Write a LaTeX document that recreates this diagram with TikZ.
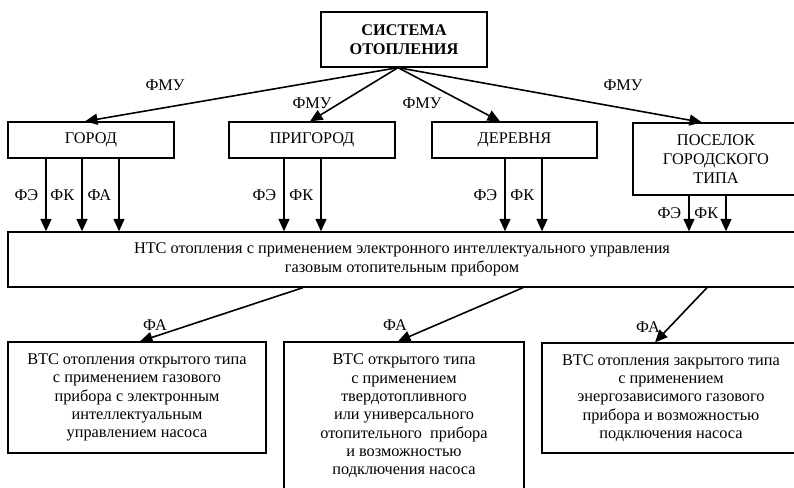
\documentclass[tikz,border=0pt]{standalone}
\usepackage{fontspec}
\setmainfont{Liberation Serif}
\usetikzlibrary{arrows.meta}
\begin{document}
\begin{tikzpicture}[x=1pt,y=-1pt,
  box/.style={draw, line width=1.3pt, inner sep=0pt, align=center, font=\fontsize{16.3}{18.3}\selectfont},
  arr/.style={line width=1.6pt, -{Triangle[length=12.5pt,width=11pt]}},
  lab/.style={font=\fontsize{16.3}{18}\selectfont, inner sep=0pt}]
\useasboundingbox (0,0) rectangle (794,487);
\clip (0,0) rectangle (794,487);
% boxes
\node (top) [box, minimum width=166pt, minimum height=55pt, font=\bfseries\fontsize{16.3}{19}\selectfont] at (404,39.5) {СИСТЕМА\\ОТОПЛЕНИЯ};
\node (gorod) [box, minimum width=166pt, minimum height=36pt] at (91,140) {ГОРОД};
\node (prig) [box, minimum width=166pt, minimum height=36pt] at (312,140) {ПРИГОРОД};
\node (derev) [box, minimum width=165pt, minimum height=36pt] at (514.5,140) {ДЕРЕВНЯ};
\node (posel) [box, minimum width=166pt, minimum height=72pt, font=\fontsize{16.3}{19}\selectfont] at (716,159) {ПОСЕЛОК\\ГОРОДСКОГО\\ТИПА};
\node (nts) [box, minimum width=788pt, minimum height=55pt, font=\fontsize{16.3}{19.5}\selectfont] at (402,259.5) {НТС отопления с применением электронного интеллектуального управления\\газовым отопительным прибором};
\node (b1) [box, minimum width=258pt, minimum height=111pt] at (137,397.5) {ВТС отопления открытого типа\\с применением газового\\прибора с электронным\\интеллектуальным\\управлением насоса};
\node (b2) [box, minimum width=240pt, minimum height=148pt] at (404,416) {ВТС открытого типа\\с применением\\твердотопливного\\или универсального\\отопительного\ \ прибора\\и возможностью\\подключения насоса};
\node (b3) [box, minimum width=258pt, minimum height=110pt] at (671,398) {ВТС отопления закрытого типа\\с применением\\энергозависимого газового\\прибора и возможностью\\подключения насоса};
% top arrows
\coordinate (o) at ([xshift=-6pt]top.south);
\draw[arr] (o) -- ([xshift=-6pt]gorod.north);
\draw[arr] (o) -- ([xshift=-2pt]prig.north);
\draw[arr] (o) -- ([xshift=-14.5pt]derev.north);
\draw[arr] (o) -- ([xshift=-14pt]posel.north);
\node (fmu1) [lab] at (165,85) {ФМУ};
\node (fmu2) [lab] at (312,103) {ФМУ};
\node (fmu3) [lab] at (422,103) {ФМУ};
\node (fmu4) [lab] at (623,85) {ФМУ};
% vertical arrows
\draw[arr] ([xshift=-45pt]gorod.south) -- ([xshift=-45pt]gorod.south |- nts.north) node (g1) [lab, midway, left=7pt] {ФЭ};
\draw[arr] ([xshift=-9pt]gorod.south) -- ([xshift=-9pt]gorod.south |- nts.north) node (g2) [lab, midway, left=7pt] {ФК};
\draw[arr] ([xshift=28pt]gorod.south) -- ([xshift=28pt]gorod.south |- nts.north) node (g3) [lab, midway, left=7pt] {ФА};
\draw[arr] ([xshift=-28pt]prig.south) -- ([xshift=-28pt]prig.south |- nts.north) node (p1) [lab, midway, left=7pt] {ФЭ};
\draw[arr] ([xshift=9pt]prig.south) -- ([xshift=9pt]prig.south |- nts.north) node (p2) [lab, midway, left=7pt] {ФК};
\draw[arr] ([xshift=-9.5pt]derev.south) -- ([xshift=-9.5pt]derev.south |- nts.north) node (d1) [lab, midway, left=7pt] {ФЭ};
\draw[arr] ([xshift=27.5pt]derev.south) -- ([xshift=27.5pt]derev.south |- nts.north) node (d2) [lab, midway, left=7pt] {ФК};
\draw[arr] ([xshift=-27pt]posel.south) -- ([xshift=-27pt]posel.south |- nts.north) node (s1) [lab, midway, left=7pt] {ФЭ};
\draw[arr] ([xshift=10pt]posel.south) -- ([xshift=10pt]posel.south |- nts.north) node (s2) [lab, midway, left=7pt] {ФК};
% lower arrows
\draw[arr] ([xshift=-99pt]nts.south) -- ([xshift=3pt]b1.north);
\draw[arr] ([xshift=121pt]nts.south) -- ([xshift=-6pt]b2.north);
\draw[arr] ([xshift=305pt]nts.south) -- ([xshift=-16pt]b3.north);
\node (fa1) [lab] at (155,325) {ФА};
\node (fa2) [lab] at (395,325) {ФА};
\node (fa3) [lab] at (648,327) {ФА};
\end{tikzpicture}
\end{document}
